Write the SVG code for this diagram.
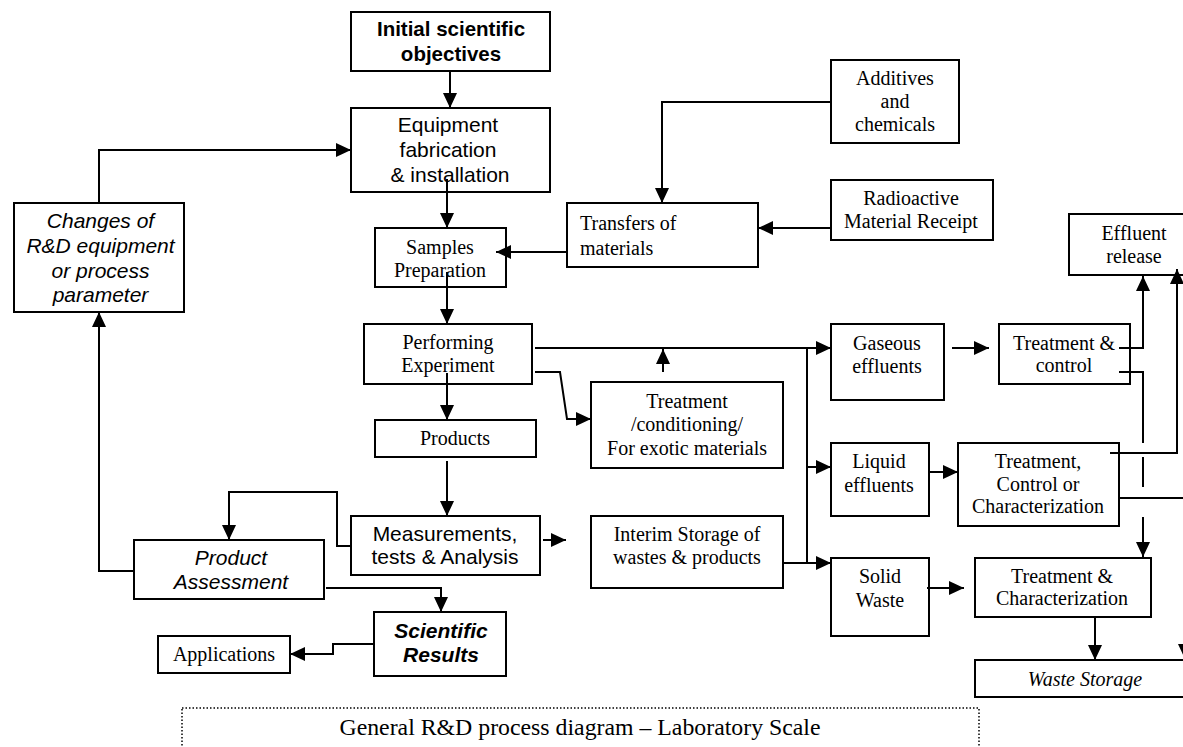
<svg xmlns="http://www.w3.org/2000/svg" width="1183" height="747" viewBox="0 0 1183 747">
<defs>
<style>
.box{fill:#fff;stroke:#000;stroke-width:2}
.c{fill:none;stroke:#000;stroke-width:2}
.a{font-family:"Liberation Sans",Arial,sans-serif;font-size:21px;text-anchor:middle;fill:#000}
.ab{font-family:"Liberation Sans",Arial,sans-serif;font-size:20.5px;font-weight:bold;text-anchor:middle;fill:#000}
.ai{font-family:"Liberation Sans",Arial,sans-serif;font-size:21px;font-style:italic;text-anchor:middle;fill:#000}
.abi{font-family:"Liberation Sans",Arial,sans-serif;font-size:21px;font-style:italic;font-weight:bold;text-anchor:middle;fill:#000}
.t{font-family:"Liberation Serif","Times New Roman",serif;font-size:20px;text-anchor:middle;fill:#000}
.ti{font-family:"Liberation Serif","Times New Roman",serif;font-size:20px;font-style:italic;text-anchor:middle;fill:#000}
.foot{font-family:"Liberation Serif","Times New Roman",serif;font-size:23.8px;text-anchor:middle;fill:#000}
</style>
<marker id="ar" markerUnits="userSpaceOnUse" markerWidth="15" markerHeight="14" refX="15" refY="7" orient="auto">
<path d="M0,0 L15,7 L0,14 z" fill="#000"/>
</marker>
</defs>
<rect width="1183" height="747" fill="#fff"/>

<g id="n-initial"><rect class="box" x="351" y="12" width="199" height="59"/>
<text class="ab" x="451" y="36">Initial scientific</text><text class="ab" x="451" y="61">objectives</text></g>

<g id="n-equipment"><rect class="box" x="351" y="108" width="199" height="84"/>
<text class="a" x="448" y="132">Equipment</text><text class="a" x="448" y="157">fabrication</text><text class="a" x="450" y="182">&amp; installation</text></g>

<g id="n-changes"><rect class="box" x="14" y="203" width="170" height="109"/>
<text class="ai" x="100.5" y="228">Changes of</text><text class="ai" x="100.5" y="253">R&amp;D equipment</text><text class="ai" x="100.5" y="278">or process</text><text class="ai" x="100.5" y="302">parameter</text></g>

<g id="n-samples"><rect class="box" x="375" y="228" width="131" height="59"/>
<text class="t" x="440" y="254">Samples</text><text class="t" x="440" y="277">Preparation</text></g>

<g id="n-transfers"><rect class="box" x="567" y="203" width="191" height="64"/>
<text class="t" x="580" y="230" style="text-anchor:start">Transfers of</text><text class="t" x="580" y="255" style="text-anchor:start">materials</text></g>

<g id="n-additives"><rect class="box" x="831" y="60" width="128" height="83"/>
<text class="t" x="895" y="85">Additives</text><text class="t" x="895" y="108">and</text><text class="t" x="895" y="131">chemicals</text></g>

<g id="n-radioactive"><rect class="box" x="831" y="180" width="162" height="60"/>
<text class="t" x="911" y="205">Radioactive</text><text class="t" x="911" y="228">Material Receipt</text></g>

<g id="n-effluent"><rect class="box" x="1069" y="214" width="125" height="61"/>
<text class="t" x="1134" y="240">Effluent</text><text class="t" x="1134" y="263">release</text></g>

<g id="n-performing"><rect class="box" x="364" y="324" width="168" height="60"/>
<text class="t" x="448" y="349">Performing</text><text class="t" x="448" y="372">Experiment</text></g>

<g id="n-treatcond"><rect class="box" x="591" y="382" width="192" height="86"/>
<text class="t" x="687" y="408">Treatment</text><text class="t" x="687" y="431">/conditioning/</text><text class="t" x="687" y="455">For exotic materials</text></g>

<g id="n-products"><rect class="box" x="375" y="420" width="161" height="37"/>
<text class="t" x="455" y="445">Products</text></g>

<g id="n-measure"><rect class="box" x="351" y="516" width="189" height="59"/>
<text class="a" x="445" y="541">Measurements,</text><text class="a" x="445" y="564">tests &amp; Analysis</text></g>

<g id="n-interim"><rect class="box" x="591" y="516" width="192" height="72"/>
<text class="t" x="687" y="541">Interim Storage of</text><text class="t" x="687" y="564">wastes &amp; products</text></g>

<g id="n-gaseous"><rect class="box" x="831" y="324" width="113" height="76"/>
<text class="t" x="887" y="350">Gaseous</text><text class="t" x="887" y="373">effluents</text></g>

<g id="n-treatcontrol"><rect class="box" x="999" y="324" width="131" height="60"/>
<text class="t" x="1064" y="350">Treatment &amp;</text><text class="t" x="1064" y="372">control</text></g>

<g id="n-liquid"><rect class="box" x="831" y="443" width="98" height="73"/>
<text class="t" x="879" y="468">Liquid</text><text class="t" x="879" y="492">effluents</text></g>

<g id="n-tcc"><rect class="box" x="958" y="443" width="161" height="83"/>
<text class="t" x="1038" y="468">Treatment,</text><text class="t" x="1038" y="491">Control or</text><text class="t" x="1038" y="513">Characterization</text></g>

<g id="n-solid"><rect class="box" x="831" y="558" width="98" height="78"/>
<text class="t" x="880" y="583">Solid</text><text class="t" x="880" y="607">Waste</text></g>

<g id="n-tchar"><rect class="box" x="975" y="558" width="176" height="59"/>
<text class="t" x="1062" y="583">Treatment &amp;</text><text class="t" x="1062" y="605">Characterization</text></g>

<g id="n-wastestorage"><rect class="box" x="975" y="660" width="220" height="37"/>
<text class="ti" x="1085" y="686">Waste Storage</text></g>

<g id="n-assessment"><rect class="box" x="134" y="540" width="190" height="59"/>
<text class="ai" x="231" y="565">Product</text><text class="ai" x="231" y="589">Assessment</text></g>

<g id="n-scientific"><rect class="box" x="374" y="612" width="132" height="64"/>
<text class="abi" x="441" y="638">Scientific</text><text class="abi" x="441" y="662">Results</text></g>

<g id="n-applications"><rect class="box" x="158" y="636" width="132" height="37"/>
<text class="t" x="224" y="661">Applications</text></g>

<g id="caption"><rect x="182" y="708" width="797" height="60" fill="none" stroke="#000" stroke-width="1.5" stroke-dasharray="1.5,2"/>
<text class="foot" x="580" y="735">General R&amp;D process diagram – Laboratory Scale</text></g>

<g id="connectors">
<path class="c" d="M450,71 V108" marker-end="url(#ar)"/>
<path class="c" d="M99,203 V150 H351" marker-end="url(#ar)"/>
<path class="c" d="M447,179 V228" marker-end="url(#ar)"/>
<path class="c" d="M447,272 V324" marker-end="url(#ar)"/>
<path class="c" d="M447,373 V420" marker-end="url(#ar)"/>
<path class="c" d="M447,461 V516" marker-end="url(#ar)"/>
<path class="c" d="M567,252 H496" marker-end="url(#ar)"/>
<path class="c" d="M831,102 H662 V203" marker-end="url(#ar)"/>
<path class="c" d="M831,228 H758" marker-end="url(#ar)"/>
<path class="c" d="M543,540 H566" marker-end="url(#ar)"/>
<path class="c" d="M351,546 H337 V492 H229 V540" marker-end="url(#ar)"/>
<path class="c" d="M134,571 H99 V312" marker-end="url(#ar)"/>
<path class="c" d="M326,588 H441 V612" marker-end="url(#ar)"/>
<path class="c" d="M374,644 H333 V654 H290" marker-end="url(#ar)"/>
<path class="c" d="M535,348 H831" marker-end="url(#ar)"/>
<path class="c" d="M807,348 V563"/>
<path class="c" d="M807,467 H831" marker-end="url(#ar)"/>
<path class="c" d="M783,563 H831" marker-end="url(#ar)"/>
<path class="c" d="M663,372 V349" marker-end="url(#ar)"/>
<path class="c" d="M535,372 H560 L567,419 H591" marker-end="url(#ar)"/>
<path class="c" d="M952,348 H989" marker-end="url(#ar)"/>
<path class="c" d="M929,472 H958" marker-end="url(#ar)"/>
<path class="c" d="M927,588 H964" marker-end="url(#ar)"/>
<path class="c" d="M1095,617 V660" marker-end="url(#ar)"/>
<path class="c" d="M1119,348 H1143 V276" marker-end="url(#ar)"/>
<path class="c" d="M1119,372 H1143 V443"/>
<path class="c" d="M1143,457 V487"/>
<path class="c" d="M1143,517 V557" marker-end="url(#ar)"/>
<path class="c" d="M1110,453 H1177 V269" marker-end="url(#ar)"/>
<path class="c" d="M1119,498 H1190"/>
<path class="c" d="M1185,600 V659" marker-end="url(#ar)"/>
</g>
</svg>
